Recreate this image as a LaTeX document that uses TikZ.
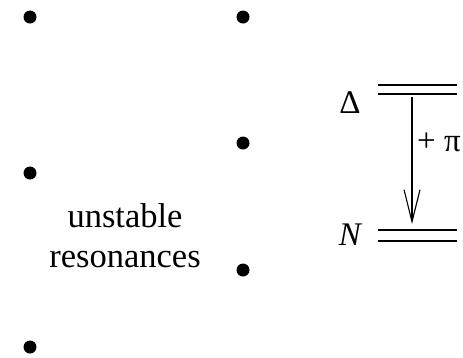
\documentclass[tikz,border=0pt]{standalone}
\usepackage{fontspec}
\setmainfont{Liberation Serif}
\usetikzlibrary{arrows.meta}
\begin{document}
\begin{tikzpicture}[x=1pt,y=-1pt,
  dot/.style={circle,fill=black,inner sep=0pt,minimum size=13pt},
  lvl/.style={line width=1.3pt},
  lbl/.style={inner sep=0pt,font=\fontsize{33}{38}\selectfont},
  txt/.style={inner sep=0pt,font=\fontsize{34.5}{40}\selectfont}]
\useasboundingbox (0,0) rectangle (463,357);
% dots
\node[dot] (l1) at (30,17) {};
\node[dot] (l2) at (30,173) {};
\node[dot] (l3) at (30,347) {};
\node[dot] (r1) at (243,17) {};
\node[dot] (r2) at (243,143) {};
\node[dot] (r3) at (243,270) {};
% text
\node[txt,anchor=base] (t1) at (125,227) {unstable};
\node[txt,anchor=base] (t2) at (125,267) {resonances};
% levels
\coordinate (d1a) at (378,85); \coordinate (d1b) at (457,85);
\coordinate (d2a) at (378,94); \coordinate (d2b) at (457,94);
\coordinate (n1a) at (378,230); \coordinate (n1b) at (457,230);
\coordinate (n2a) at (378,241); \coordinate (n2b) at (457,241);
\draw[lvl] (d1a) -- (d1b);
\draw[lvl] (d2a) -- (d2b);
\draw[lvl] (n1a) -- (n1b);
\draw[lvl] (n2a) -- (n2b);
\node[lbl,anchor=base] (delta) at (350,113) {Δ};
\node[lbl,anchor=base] (nuc) at (350,245.5) {\itshape N};
\coordinate (as) at (412,97);
\coordinate (ae) at (412,224);
\draw[line width=1.1pt,-{Straight Barb[length=32pt,width=16pt,line width=1.1pt]}] (as) -- (ae);
\node[lbl,anchor=base west] (pi) at (417,151) {+ π};
\end{tikzpicture}
\end{document}
